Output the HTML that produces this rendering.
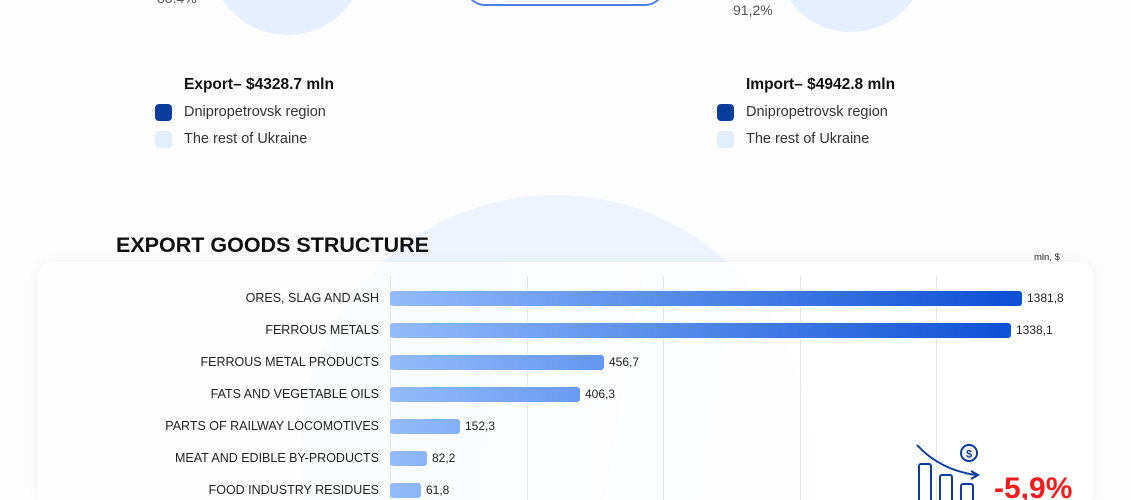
<!DOCTYPE html>
<html style="width:1131px;height:500px;overflow:hidden"><head><style>
body{margin:0;width:1131px;height:500px;overflow:hidden;background:#fdfdfe;font-family:"Liberation Sans",sans-serif;position:relative}
#w{position:absolute;left:0;top:0;width:1131px;height:500px;overflow:hidden}
.a{position:absolute}
.lbl{position:absolute;right:752px;font-size:12.5px;color:#222;text-align:right;white-space:nowrap}
.bar{position:absolute;left:390px;height:15px;border-radius:3px;background:linear-gradient(90deg,#93bbfc,#0b4fd6);background-size:632px 15px}
.val{position:absolute;font-size:12px;color:#222}
.leg{position:absolute;font-size:14.5px;color:#333}
.sw{position:absolute;width:17px;height:17px;border-radius:4px}
</style></head><body><div id="w">
<div class="a" style="left:210px;top:-120px;width:155px;height:155px;border-radius:50%;background:#e6effd"></div>
<div class="a" style="left:775px;top:-120px;width:152px;height:152px;border-radius:50%;background:#e6effd"></div>
<div class="a" style="left:465px;top:-40px;width:196px;height:42px;border:2px solid #4d7ee6;border-radius:20px"></div>
<div class="a" style="left:157px;top:-10px;font-size:14px;color:#555">88.4%</div>
<div class="a" style="left:733px;top:2px;font-size:14px;color:#555">91,2%</div>
<div class="a" style="left:184px;top:76px;font-size:15.5px;font-weight:bold;color:#111">Export– $4328.7 mln</div>
<div class="a" style="left:746px;top:76px;font-size:15.5px;font-weight:bold;color:#111">Import– $4942.8 mln</div>
<div class="sw" style="left:155px;top:104px;background:#0a3d9c"></div>
<div class="leg" style="left:184px;top:104px">Dnipropetrovsk region</div>
<div class="sw" style="left:155px;top:131px;background:#e3eefc"></div>
<div class="leg" style="left:184px;top:131px">The rest of Ukraine</div>
<div class="sw" style="left:717px;top:104px;background:#0a3d9c"></div>
<div class="leg" style="left:746px;top:104px">Dnipropetrovsk region</div>
<div class="sw" style="left:717px;top:131px;background:#e3eefc"></div>
<div class="leg" style="left:746px;top:131px">The rest of Ukraine</div>
<div class="a" style="left:300px;top:195px;width:510px;height:305px;border-radius:255px 255px 0 0;background:#eef3fd"></div>
<div class="a" style="left:38px;top:262px;width:1055px;height:238px;border-radius:14px 14px 0 0;background:linear-gradient(100deg,rgba(255,255,255,0.55),rgba(255,255,255,0.9) 60%,#fff);box-shadow:0 0 12px rgba(0,0,40,0.05)"></div>
<div class="a" style="left:116px;top:233px;font-size:21.5px;font-weight:bold;color:#111">EXPORT GOODS STRUCTURE</div>
<div class="a" style="left:1034px;top:252px;font-size:9.5px;color:#222">mln, $</div>
<div class="a" style="left:390px;top:276px;width:1px;height:224px;background:#e2e5ea"></div>
<div class="a" style="left:527px;top:276px;width:1px;height:224px;background:#e2e5ea"></div>
<div class="a" style="left:663px;top:276px;width:1px;height:224px;background:#e2e5ea"></div>
<div class="a" style="left:800px;top:276px;width:1px;height:224px;background:#e2e5ea"></div>
<div class="a" style="left:936px;top:276px;width:1px;height:224px;background:#e2e5ea"></div>
<div class="lbl" style="top:291px">ORES, SLAG AND ASH</div><div class="bar" style="top:291px;width:632px"></div><div class="val" style="left:1027px;top:291px">1381,8</div>
<div class="lbl" style="top:323px">FERROUS METALS</div><div class="bar" style="top:323px;width:621px"></div><div class="val" style="left:1016px;top:323px">1338,1</div>
<div class="lbl" style="top:355px">FERROUS METAL PRODUCTS</div><div class="bar" style="top:355px;width:214px"></div><div class="val" style="left:609px;top:355px">456,7</div>
<div class="lbl" style="top:387px">FATS AND VEGETABLE OILS</div><div class="bar" style="top:387px;width:190px"></div><div class="val" style="left:585px;top:387px">406,3</div>
<div class="lbl" style="top:419px">PARTS OF RAILWAY LOCOMOTIVES</div><div class="bar" style="top:419px;width:70px"></div><div class="val" style="left:465px;top:419px">152,3</div>
<div class="lbl" style="top:451px">MEAT AND EDIBLE BY-PRODUCTS</div><div class="bar" style="top:451px;width:37px"></div><div class="val" style="left:432px;top:451px">82,2</div>
<div class="lbl" style="top:483px">FOOD INDUSTRY RESIDUES</div><div class="bar" style="top:483px;width:31px"></div><div class="val" style="left:426px;top:483px">61,8</div>
<svg class="a" style="left:910px;top:440px" width="75" height="60" viewBox="0 0 75 60">
<path d="M7 5 Q30 30 66 35" stroke="#0a3d9c" stroke-width="2" fill="none"/><path d="M61 31 L68 35 L61 39" stroke="#0a3d9c" stroke-width="2" fill="none"/>
<circle cx="59" cy="13" r="8" stroke="#0a3d9c" stroke-width="2" fill="none"/><text x="59" y="17.5" font-size="11" font-weight="bold" fill="#0a3d9c" text-anchor="middle" font-family="Liberation Sans">$</text>
<rect x="9" y="24" width="12" height="40" rx="2" stroke="#0a3d9c" stroke-width="2" fill="none"/>
<rect x="30" y="35" width="12" height="30" rx="2" stroke="#0a3d9c" stroke-width="2" fill="none"/>
<rect x="51" y="44" width="12" height="20" rx="2" stroke="#0a3d9c" stroke-width="2" fill="none"/>
</svg>
<div class="a" style="left:994px;top:472px;font-size:30px;font-weight:bold;color:#ee1c1c;height:28px;overflow:hidden">-5,9%</div>
</div></body></html>
